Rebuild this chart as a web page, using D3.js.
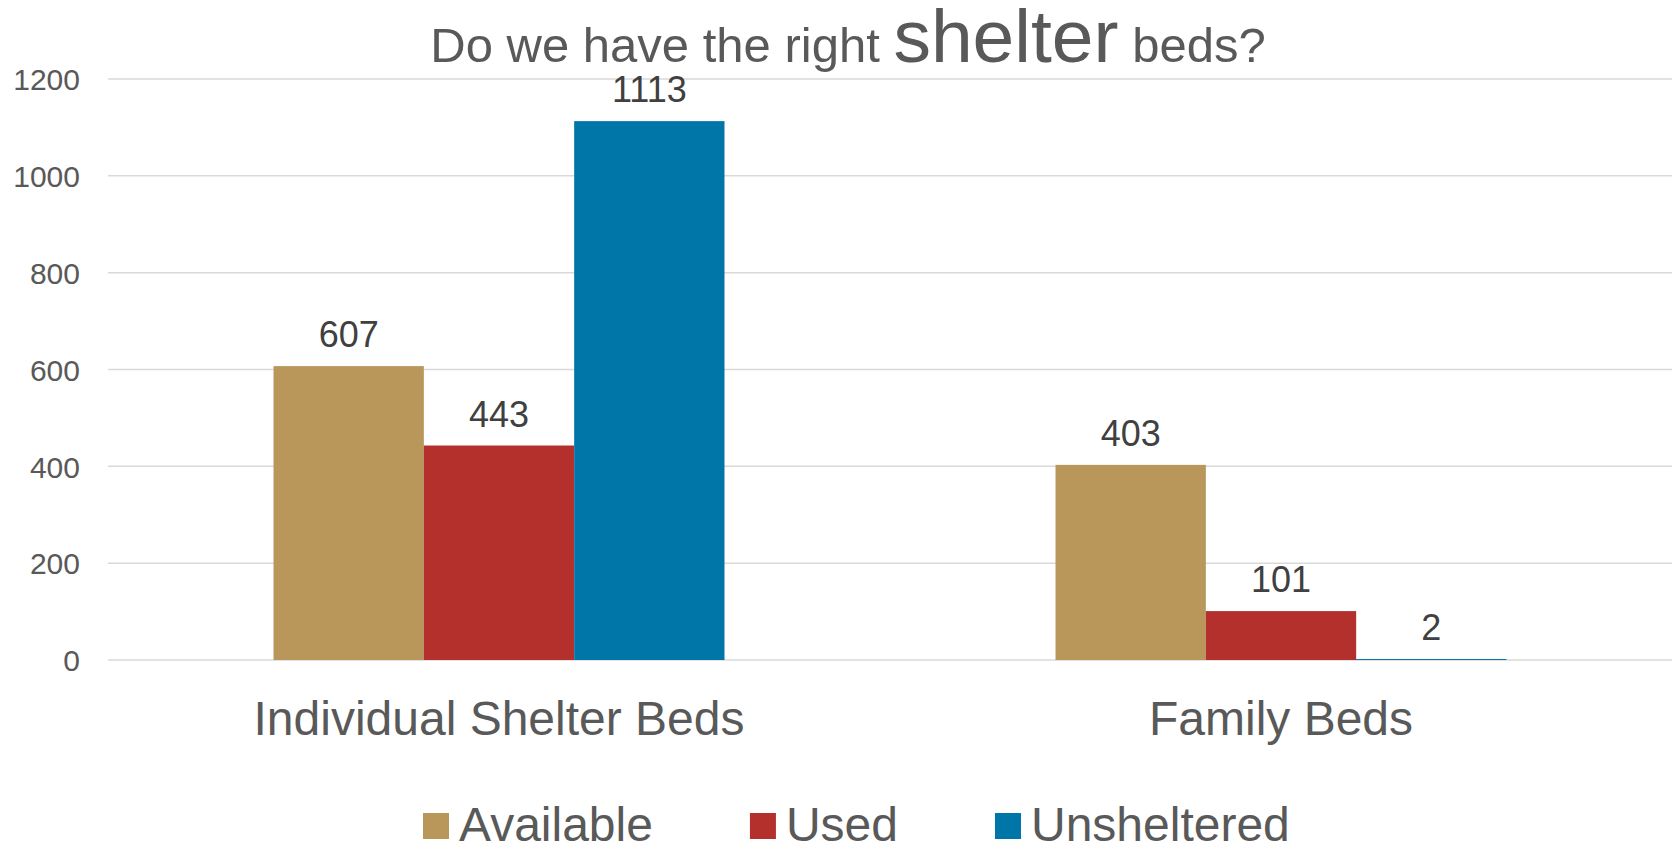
<!DOCTYPE html>
<html>
<head>
<meta charset="utf-8">
<script src="https://cdn.jsdelivr.net/npm/d3@7/dist/d3.min.js"></script>
<style>
  html, body { margin: 0; padding: 0; background: #fff; }
  svg { display: block; font-family: Arial, "Liberation Sans", sans-serif; }
</style>
</head>
<body>
<svg id="chart" width="1672" height="848"></svg>
<script>
const categories = ["Individual Shelter Beds", "Family Beds"];
const seriesNames = ["Available", "Used", "Unsheltered"];
const available = [607, 403];
const used = [443, 101];
const unsheltered = [1113, 2];
const yTicks = [0, 200, 400, 600, 800, 1000, 1200];
const colors = ["#B9965A", "#B4302D", "#0076A8"];

const seriesValues = [available, used, unsheltered];

const W = 1672, H = 848;
const plot = { left: 108, right: 1672, top: 79, bottom: 660 };
const svg = d3.select("#chart");

const x0 = d3.scaleBand()
  .domain(categories)
  .range([plot.left, plot.right])
  .paddingInner(0.4233)
  .paddingOuter(0.4233 / 2);
const x1 = d3.scaleBand()
  .domain(seriesNames)
  .range([0, x0.bandwidth()]);
const y = d3.scaleLinear().domain([0, 1200]).range([plot.bottom, plot.top]);

// gridlines
svg.append("g").selectAll("line").data(yTicks).join("line")
  .attr("x1", plot.left).attr("x2", plot.right)
  .attr("y1", d => y(d)).attr("y2", d => y(d))
  .attr("stroke", "#D9D9D9").attr("stroke-width", 1.5);

// y axis labels
const yAxis = d3.axisLeft(y).tickValues(yTicks).tickFormat(d3.format("d")).tickSize(0).tickPadding(0);
const yg = svg.append("g").attr("transform", `translate(80,0)`).call(yAxis);
yg.select(".domain").remove();
yg.selectAll("text")
  .attr("font-size", 30).attr("fill", "#595959")
  .attr("font-family", "Arial, 'Liberation Sans', sans-serif")
  .attr("dy", "0.36em");

// bars
const rows = [];
categories.forEach((c, ci) => {
  seriesNames.forEach((s, si) => {
    rows.push({ cat: c, series: s, value: seriesValues[si][ci], color: colors[si] });
  });
});

svg.append("g").selectAll("rect").data(rows).join("rect")
  .attr("x", d => x0(d.cat) + x1(d.series))
  .attr("y", d => y(d.value))
  .attr("width", x1.bandwidth())
  .attr("height", d => y(0) - y(d.value))
  .attr("fill", d => d.color);

// data labels
svg.append("g").selectAll("text").data(rows).join("text")
  .attr("x", d => x0(d.cat) + x1(d.series) + x1.bandwidth() / 2)
  .attr("y", d => y(d.value) - 19)
  .attr("text-anchor", "middle")
  .attr("font-size", 36)
  .attr("fill", "#404040")
  .text(d => d.value);

// category labels
const xAxis = d3.axisBottom(x0).tickSize(0).tickPadding(0);
const xg = svg.append("g").attr("transform", `translate(0,${plot.bottom})`).call(xAxis);
xg.select(".domain").remove();
xg.selectAll("text")
  .attr("font-size", 48).attr("fill", "#595959")
  .attr("font-family", "Arial, 'Liberation Sans', sans-serif")
  .attr("dy", 0).attr("y", 75);

// title
const title = svg.append("text")
  .attr("x", 848).attr("y", 62)
  .attr("text-anchor", "middle")
  .attr("fill", "#595959")
  .attr("font-size", 49);
title.append("tspan").text("Do we have the right ");
title.append("tspan").attr("font-size", 75).text("shelter");
title.append("tspan").text(" beds?");

// legend
const legend = svg.append("g");
let lx = 423;
seriesNames.forEach((s, i) => {
  const g = legend.append("g");
  g.append("rect").attr("x", lx).attr("y", 813).attr("width", 26).attr("height", 26).attr("fill", colors[i]);
  const t = g.append("text").attr("x", lx + 36).attr("y", 841)
    .attr("font-size", 48).attr("fill", "#595959").text(s);
  const w = t.node().getComputedTextLength();
  lx = lx + 36 + w + 97;
});
</script>
</body>
</html>
